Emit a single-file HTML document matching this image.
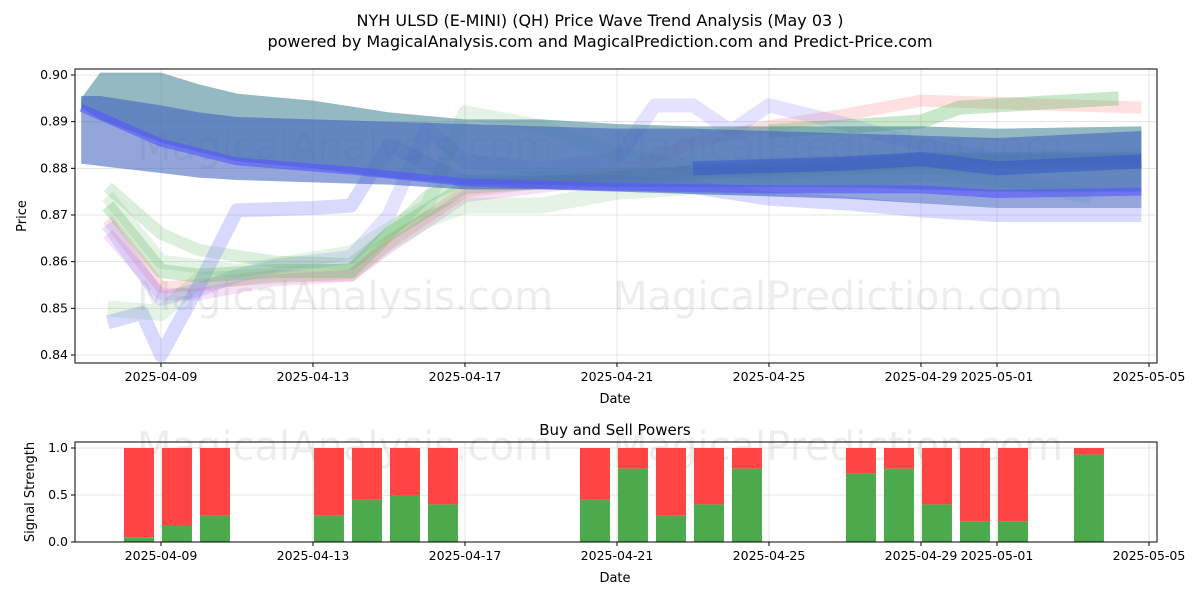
<!DOCTYPE html>
<html><head><meta charset="utf-8"><style>
body{margin:0;background:#fff;font-family:"Liberation Sans","DejaVu Sans",sans-serif}
svg text{font-family:"DejaVu Sans","Liberation Sans",sans-serif}
</style></head><body>
<svg id="c" width="1200" height="600" xmlns="http://www.w3.org/2000/svg">
<text x="600" y="26" text-anchor="middle" font-size="16">NYH ULSD (E-MINI) (QH) Price Wave Trend Analysis (May 03 )</text>
<text x="600" y="47" text-anchor="middle" font-size="16">powered by MagicalAnalysis.com and MagicalPrediction.com and Predict-Price.com</text>
<g id="topg"></g><g id="botg"></g>
</svg>
<script>
const tickDates=["2025-04-09","2025-04-13","2025-04-17","2025-04-21","2025-04-25","2025-04-29","2025-05-01","2025-05-05"];
const tickDays=[0,4,8,12,16,20,22,26];
const yTicks=[0.84,0.85,0.86,0.87,0.88,0.89,0.90];
const bandUpperDays=[-2.1,-1.6,0,1,2,4,6,8,10,12,14,16,18,20,22,25.8];
const bandUpper=[0.895,0.9005,0.9005,0.898,0.896,0.8945,0.892,0.8905,0.8905,0.8895,0.889,0.889,0.889,0.889,0.8885,0.889];
const bandLower=[0.893,0.8905,0.8855,0.8835,0.8815,0.880,0.878,0.8765,0.8765,0.876,0.876,0.876,0.876,0.8755,0.875,0.875];
const blueUpper=[0.8955,0.8955,0.8935,0.892,0.891,0.8905,0.890,0.8895,0.889,0.8885,0.8885,0.888,0.8875,0.887,0.8865,0.888];
const blueLower=[0.881,0.8805,0.879,0.878,0.8775,0.877,0.8765,0.8755,0.8755,0.875,0.8745,0.874,0.8735,0.8725,0.8715,0.8715];
const lines=[
{c:"#4caf50",w:12,o:0.2,d:[-1.4,0,1,3,5,6,7,8,10,12,14,16,18,20,22,25.8],v:[0.876,0.866,0.8625,0.860,0.8595,0.866,0.874,0.8775,0.878,0.879,0.879,0.879,0.880,0.880,0.880,0.881]},
{c:"#ff6666",w:12,o:0.2,d:[-1.4,0,1,3,5,6,8,12,14,16,18,20,22,25.8],v:[0.869,0.8545,0.855,0.857,0.857,0.864,0.875,0.879,0.8855,0.889,0.8915,0.8945,0.894,0.893]},
{c:"#cc66cc",w:12,o:0.2,d:[-1.4,0,1,3,5,6,8,12,16,20,25.8],v:[0.866,0.853,0.853,0.856,0.857,0.863,0.874,0.878,0.881,0.882,0.882]},
{c:"#8080ff",w:14,o:0.22,d:[-1.4,0,1,2,3,5,6,7,8,10,12,13,14,15,16,18,20,22,25.8],v:[0.868,0.852,0.854,0.857,0.859,0.861,0.870,0.8885,0.8815,0.880,0.882,0.8935,0.8935,0.888,0.8935,0.8895,0.885,0.882,0.882]},
{c:"#8080ff",w:14,o:0.3,d:[-1.4,-0.5,0,1,2,4,5,6,8,12,14,16,18,20,22,25.8],v:[0.847,0.849,0.840,0.855,0.871,0.8715,0.872,0.885,0.877,0.877,0.876,0.8735,0.8725,0.871,0.870,0.870]},
{c:"#4caf50",w:16,o:0.15,d:[-1.4,0,1,3,5,6,7,8,10,12,14,16,18,20,22,24.5],v:[0.850,0.849,0.856,0.857,0.858,0.864,0.869,0.872,0.872,0.875,0.876,0.876,0.877,0.879,0.878,0.874]},
{c:"#4caf50",w:14,o:0.15,d:[-1.4,0,2,5,7,8,10,12,14,16,18,20,22,25.8],v:[0.874,0.860,0.858,0.862,0.872,0.892,0.889,0.883,0.880,0.879,0.880,0.882,0.882,0.883]},
{c:"#4caf50",w:14,o:0.3,d:[16,18,20,21,22,25.2],v:[0.888,0.889,0.890,0.893,0.8935,0.895]},
{c:"#4caf50",w:14,o:0.25,d:[-1.4,0,1,3,5,6,8,12,16,20,25.8],v:[0.872,0.858,0.857,0.858,0.858,0.866,0.876,0.878,0.880,0.8815,0.8815]},
{c:"#3050d0",w:14,o:0.45,d:[14,16,18,20,22,25.8],v:[0.880,0.8805,0.881,0.882,0.880,0.8815]},
{c:"#5555ff",w:8,o:0.6,d:[-2.1,0,2,5,8,12,16,20,22,25.8],v:[0.893,0.8855,0.8815,0.8795,0.877,0.876,0.8755,0.8755,0.8745,0.875]}
];
const barDays=[0,1,2,5,6,7,8,12,13,14,15,16,19,20,21,22,23,25];
const buyVals=[0.05,0.17,0.28,0.28,0.45,0.5,0.4,0.45,0.78,0.28,0.4,0.78,0.73,0.78,0.4,0.22,0.22,0.93];
const NS="http://www.w3.org/2000/svg";
const L=75,R=1157,T1=69,B1=363,T2=442,B2=542;
const xs=d=>161+38*d;
const ys=v=>355-(v-0.84)*4666.7;
const yb=v=>542-v*94;
function mk(t,a,p){const e=document.createElementNS(NS,t);for(const k in a)e.setAttribute(k,a[k]);(p||document.getElementById('c')).appendChild(e);return e;}
const topG=document.getElementById('topg'),botG=document.getElementById('botg');
tickDays.forEach(d=>{mk('line',{x1:xs(d),x2:xs(d),y1:T1,y2:B1,stroke:'#ddd','stroke-width':0.8},topG);mk('line',{x1:xs(d),x2:xs(d),y1:T2,y2:B2,stroke:'#ddd','stroke-width':0.8},botG);});
yTicks.forEach(v=>mk('line',{x1:L,x2:R,y1:ys(v),y2:ys(v),stroke:'#ddd','stroke-width':0.8},topG));
[0,0.5,1].forEach(v=>mk('line',{x1:L,x2:R,y1:yb(v),y2:yb(v),stroke:'#ddd','stroke-width':0.8},botG));
[[345,160],[838,160],[345,310],[838,310]].forEach(p=>{const t=mk('text',{x:p[0],y:p[1],'text-anchor':'middle','font-size':40,fill:'#000','fill-opacity':0.07},topG);t.textContent=p[0]<500?'MagicalAnalysis.com':'MagicalPrediction.com';});
[[345,460],[838,460]].forEach(p=>{const t=mk('text',{x:p[0],y:p[1],'text-anchor':'middle','font-size':40,fill:'#000','fill-opacity':0.07},botG);t.textContent=p[0]<500?'MagicalAnalysis.com':'MagicalPrediction.com';});
const cl=mk('clipPath',{id:'cp'});mk('rect',{x:L,y:T1,width:R-L,height:B1-T1},cl);
const g=mk('g',{'clip-path':'url(#cp)'},topG);
function band(up,lo,fill,op,name){let p=bandUpperDays.map((d,i)=>xs(d)+','+ys(up[i]));for(let i=bandUpperDays.length-1;i>=0;i--)p.push(xs(bandUpperDays[i])+','+ys(lo[i]));const e=mk('polygon',{points:p.join(' '),fill:fill,'fill-opacity':op},g);}
lines.slice(0,9).forEach(s=>{const e=mk('polyline',{points:s.d.map((d,i)=>xs(d)+','+ys(s.v[i])).join(' '),fill:'none',stroke:s.c,'stroke-width':s.w,'stroke-opacity':s.o,'stroke-linejoin':'round'},g);});
band(bandUpper,bandLower,'#4e8a9a',0.6,'upper-wave-band');
band(blueUpper,blueLower,'#3a5cc0',0.55,'blue-wave-band');
lines.slice(9).forEach(s=>{const e=mk('polyline',{points:s.d.map((d,i)=>xs(d)+','+ys(s.v[i])).join(' '),fill:'none',stroke:s.c,'stroke-width':s.w,'stroke-opacity':s.o,'stroke-linejoin':'round'},g);});
barDays.forEach((d,i)=>{const x=xs(d-0.58)-15;const r=mk('rect',{x:x,y:yb(1),width:30,height:yb(buyVals[i])-yb(1),fill:'#ff4444'},botG);const gr=mk('rect',{x:x,y:yb(buyVals[i]),width:30,height:yb(0)-yb(buyVals[i]),fill:'#4caa4c'},botG);});
[[T1,B1,topG],[T2,B2,botG]].forEach(a=>mk('rect',{x:L,y:a[0],width:R-L,height:a[1]-a[0],fill:'none',stroke:'#000','stroke-width':1},a[2]));
tickDays.forEach((d,i)=>{[[B1,topG],[B2,botG]].forEach(a=>{mk('line',{x1:xs(d),x2:xs(d),y1:a[0],y2:a[0]+4,stroke:'#000'},a[1]);const t=mk('text',{x:xs(d),y:a[0]+18,'text-anchor':'middle','font-size':12.5},a[1]);t.textContent=tickDates[i];});});
yTicks.forEach(v=>{mk('line',{x1:L-4,x2:L,y1:ys(v),y2:ys(v),stroke:'#000'},topG);const t=mk('text',{x:L-7,y:ys(v)+4,'text-anchor':'end','font-size':12.5},topG);t.textContent=v.toFixed(2);});
[0,0.5,1].forEach(v=>{mk('line',{x1:L-4,x2:L,y1:yb(v),y2:yb(v),stroke:'#000'},botG);const t=mk('text',{x:L-7,y:yb(v)+4,'text-anchor':'end','font-size':12.5},botG);t.textContent=v.toFixed(1);});
function lab(x,y,s,txt,rot,name){const t=mk('text',{x:x,y:y,'text-anchor':'middle','font-size':s},document.getElementById('c'));if(rot)t.setAttribute('transform','rotate(-90 '+x+' '+y+')');t.textContent=txt;}
lab(615,403,13,'Date',0,'x-axis-title');lab(615,582,13,'Date',0,'x-axis-title-bottom');
lab(26,216,13,'Price',1,'y-axis-title');lab(34,492,13,'Signal Strength',1,'y-axis-title-bottom');
lab(615,435,15,'Buy and Sell Powers',0,'bottom-chart-title');
</script>
</body></html>
